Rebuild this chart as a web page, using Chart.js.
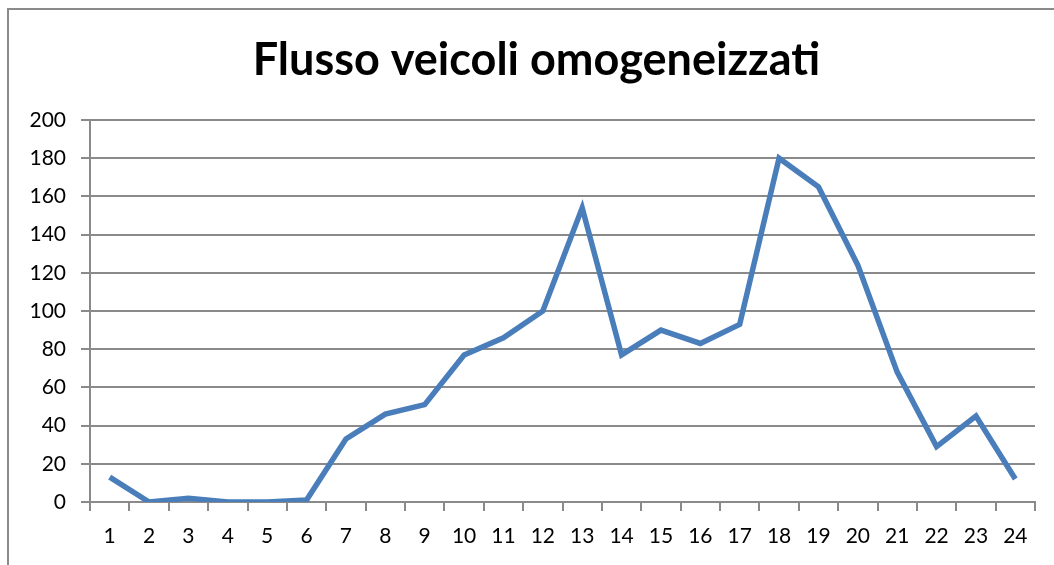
<!DOCTYPE html>
<html>
<head>
<meta charset="utf-8">
<script src="https://cdn.jsdelivr.net/npm/chart.js@4/dist/chart.umd.min.js"></script>
<style>
  body { margin: 0; background: #fff; overflow: hidden; }
  #frame { position: absolute; left: 7px; top: 8px; width: 1200px; height: 700px; border: 2px solid #8a8a8a; box-sizing: border-box; }
  #wrap { position: absolute; left: 0; top: 0; width: 1054px; height: 565px; }
</style>
</head>
<body>
<div id="frame"></div>
<div id="wrap"><canvas id="myChart" width="1054" height="565"></canvas></div>
<script>
const titleText = 'Flusso veicoli omogeneizzati';
const labels = ['1', '2', '3', '4', '5', '6', '7', '8', '9', '10', '11', '12',
                '13', '14', '15', '16', '17', '18', '19', '20', '21', '22', '23', '24'];
const dataValues = [13, 0, 2, 0, 0, 1, 33, 46, 51, 77, 86, 100,
                    154, 77, 90, 83, 93, 180, 165, 124, 68, 29, 45, 12];

// move the title a bit right so it sits where the original one is
const shiftTitle = {
    id: 'shiftTitle',
    afterLayout(chart) {
        if (chart.titleBlock) {
            chart.titleBlock.left = 38;
        }
    }
};

const ctx = document.getElementById('myChart').getContext('2d');
const myChart = new Chart(ctx, {
    type: 'line',
    data: {
        labels: labels,
        datasets: [{
            label: 'Flusso',
            data: dataValues,
            borderColor: '#4a7ebb',
            borderWidth: 5.5,
            pointRadius: 0,
            tension: 0,
            fill: false
        }]
    },
    options: {
        responsive: false,
        animation: false,
        layout: { padding: { left: 0, right: 19, top: 0, bottom: 0 } },
        plugins: {
            legend: { display: false },
            tooltip: { enabled: false },
            title: {
                display: true,
                text: titleText,
                color: '#000',
                font: { family: 'Lato', size: 45, weight: 'bold' },
                padding: { top: 33, bottom: 33 }
            }
        },
        scales: {
            x: {
                offset: true,
                grid: { offset: true, drawOnChartArea: false, color: '#8a8a8a', lineWidth: 2, tickLength: 9 },
                border: { color: '#8a8a8a', width: 2 },
                ticks: { color: '#000', font: { family: 'Lato', size: 21 }, padding: 13, maxRotation: 0 },
                afterFit: s => { s.height = 63; }
            },
            y: {
                min: 0,
                max: 200,
                ticks: { stepSize: 20, color: '#000', font: { family: 'Lato', size: 21 }, padding: 15 },
                grid: { color: '#8a8a8a', lineWidth: 2, tickLength: 9 },
                border: { color: '#8a8a8a', width: 2 },
                afterFit: s => { s.width = 90; }
            }
        }
    },
    plugins: [shiftTitle]
});
</script>
</body>
</html>
